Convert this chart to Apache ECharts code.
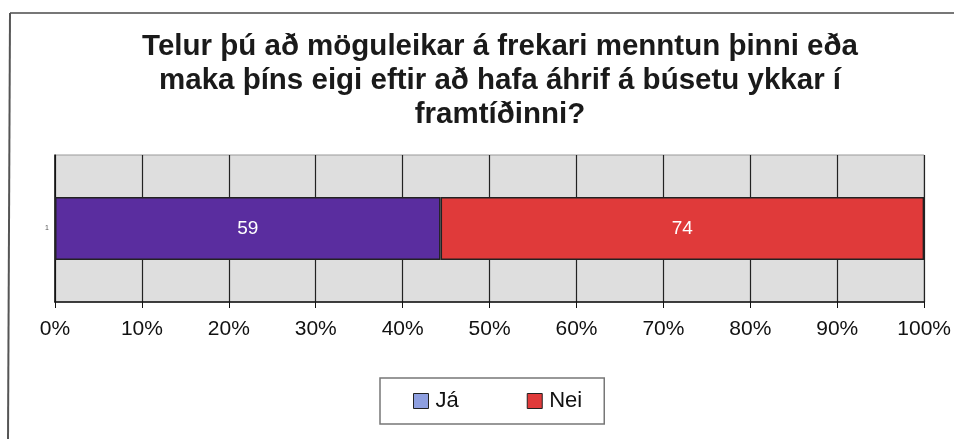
<!DOCTYPE html>
<html>
<head>
<meta charset="utf-8">
<script src="https://cdn.jsdelivr.net/npm/echarts@6/dist/echarts.min.js"></script>
<style>
  html, body { margin: 0; padding: 0; background: #fff; }
  #chart { width: 954px; height: 439px; }
</style>
</head>
<body>
<div id="chart"></div>
<script>
const title = 'Telur þú að möguleikar á frekari menntun þinni eða\nmaka þíns eigi eftir að hafa áhrif á búsetu ykkar í\nframtíðinni?'
const categories = ['1']
const jaValues = [59]
const neiValues = [74]
const tickLabels = ['0%', '10%', '20%', '30%', '40%', '50%', '60%', '70%', '80%', '90%', '100%']

// 100% stacked: share of each answer per category
const totals = categories.map((c, i) => jaValues[i] + neiValues[i])
const share = (arr) => arr.map((v, i) => ({ value: (v / totals[i]) * 100, raw: v }))

const chart = echarts.init(document.getElementById('chart'))

const labelStyle = {
  show: true,
  position: 'inside',
  color: '#fff',
  fontSize: 19,
  fontFamily: 'Liberation Sans, Arial, sans-serif',
  formatter: (p) => p.data.raw
}

chart.setOption({
  animation: false,
  textStyle: { fontFamily: 'Liberation Sans, Arial, sans-serif' },
  title: {
    text: title,
    left: 495,
    textAlign: 'center',
    top: 25,
    textStyle: { fontSize: 29.5, fontWeight: 'bold', color: '#1a1a1a', lineHeight: 34 }
  },
  graphic: [
    { type: 'line', shape: { x1: 10, y1: 13, x2: 954, y2: 13 }, style: { stroke: '#777', lineWidth: 2 } },
    { type: 'line', shape: { x1: 10, y1: 13, x2: 8, y2: 439 }, style: { stroke: '#555', lineWidth: 2 } }
  ],
  grid: {
    left: 55,
    right: 29,
    top: 155,
    bottom: 137,
    show: true,
    backgroundColor: '#dedede',
    borderColor: '#999',
    borderWidth: 1
  },
  legend: {
    left: 380,
    top: 378,
    itemWidth: 15,
    itemHeight: 15,
    itemGap: 68,
    padding: [12, 22, 12, 33],
    borderColor: '#777',
    borderWidth: 1.5,
    icon: 'rect',
    textStyle: { fontSize: 22, color: '#111', padding: [0, 0, 4, 2] },
    data: [
      { name: 'Já', itemStyle: { color: '#8e9fe0', borderColor: '#222', borderWidth: 1 } },
      { name: 'Nei', itemStyle: { color: '#e03a3a', borderColor: '#222', borderWidth: 1 } }
    ]
  },
  xAxis: {
    type: 'value',
    min: 0,
    max: 100,
    interval: 10,
    axisLine: { show: true, lineStyle: { color: '#111', width: 1.5 } },
    axisTick: { show: true, length: 6, lineStyle: { color: '#111' } },
    axisLabel: {
      margin: 17,
      fontSize: 21,
      color: '#111',
      formatter: (v) => tickLabels[Math.round(v / 10)]
    },
    splitLine: { show: true, lineStyle: { color: '#222', width: 1.2 } }
  },
  yAxis: {
    type: 'category',
    data: categories,
    axisLine: { show: true, lineStyle: { color: '#111', width: 1.5 } },
    axisTick: { show: false },
    axisLabel: { fontSize: 7, color: '#555', margin: 6 }
  },
  series: [
    {
      name: 'Já',
      type: 'bar',
      stack: 'total',
      barWidth: 63,
      data: share(jaValues),
      itemStyle: { color: '#5a2d9f', borderColor: '#222', borderWidth: 1.5 },
      label: labelStyle
    },
    {
      name: 'Nei',
      type: 'bar',
      stack: 'total',
      barWidth: 63,
      data: share(neiValues),
      itemStyle: { color: '#e03a3a', borderColor: '#222', borderWidth: 1.5 },
      label: labelStyle
    }
  ]
})
</script>
</body>
</html>
